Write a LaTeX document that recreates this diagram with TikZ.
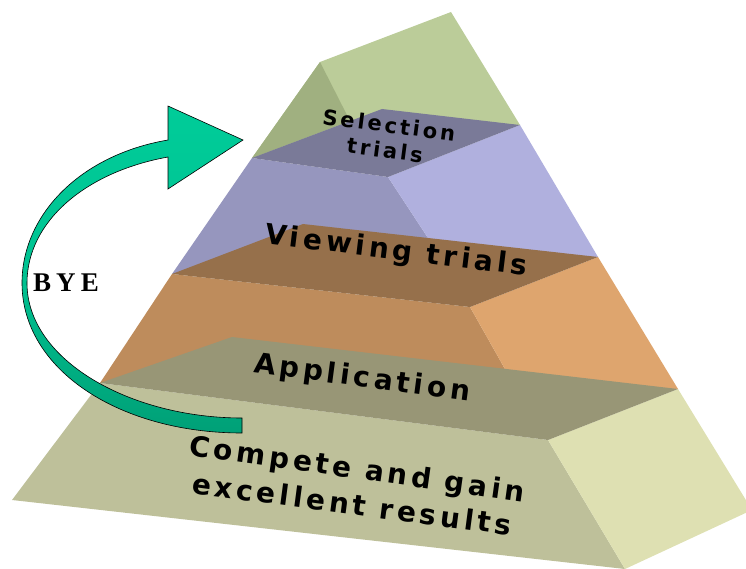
\documentclass[tikz,border=0pt]{standalone}
\usepackage{fontspec}
\newfontfamily\lblfont[LetterSpace=14]{DejaVu Sans}
\newfontfamily\selfont[LetterSpace=14]{DejaVu Sans}
\newfontfamily\byefont[LetterSpace=19]{Liberation Serif}
\definecolor{grnL}{HTML}{BBCC99}
\definecolor{grnD}{HTML}{A0B080}
\definecolor{selTop}{HTML}{7A7A98}
\definecolor{purL}{HTML}{9696BE}
\definecolor{purR}{HTML}{B0B0DE}
\definecolor{viewTop}{HTML}{96704B}
\definecolor{orL}{HTML}{BE8C5C}
\definecolor{orR}{HTML}{DEA56E}
\definecolor{appTop}{HTML}{989676}
\definecolor{botL}{HTML}{BEC09A}
\definecolor{botR}{HTML}{DEE0B2}
\definecolor{arrTop}{HTML}{00CC99}
\definecolor{arrBot}{HTML}{00A077}
\tikzset{
  lbl/.style={font=\lblfont\bfseries\fontsize{28}{30}\selectfont, text=black, inner sep=0pt},
  sellbl/.style={font=\selfont\bfseries\fontsize{21}{23}\selectfont, text=black, inner sep=0pt},
}
\begin{document}
\begin{tikzpicture}[x=1pt,y=-1pt]
\useasboundingbox (0,0) rectangle (746,569);
\clip (0,0) rectangle (746,569);
% green top piece
\fill[grnL] (320,62) -- (451,12) -- (520,125) -- (252,158) -- cycle;
\fill[grnD] (320,62) -- (252,158) -- (350,121) -- cycle;
% purple layer
\fill[purL] (252,158) -- (388,177) -- (449,270) -- (172,274) -- cycle;
\fill[purR] (388,177) -- (520,125) -- (598,257) -- (449,270) -- cycle;
\fill[selTop] (252,158) -- (382,109) -- (520,125) -- (388,177) -- cycle;
% orange layer
\fill[orL] (172,274) -- (470,307) -- (514,385) -- (100,383) -- cycle;
\fill[orR] (470,307) -- (598,257) -- (678,389) -- (514,385) -- cycle;
\fill[viewTop] (172,274) -- (303,224) -- (598,257) -- (470,307) -- cycle;
% bottom layer
\fill[botL] (100,383) -- (548,440) -- (625,569) -- (12,500) -- cycle;
\fill[botR] (548,440) -- (678,389) -- (752,510) -- (625,569) -- cycle;
\fill[appTop] (100,383) -- (232,337) -- (678,389) -- (548,440) -- cycle;
% curved arrow
\path[draw=black, line width=0.6pt, top color=arrTop, bottom color=arrBot, middle color=arrTop!80!arrBot, shading angle=0]
  (168,140) .. controls (80,155) and (22,215) .. (22,283)
  .. controls (22,370) and (120,433) .. (242,433)
  -- (242,418)
  .. controls (130,418) and (27,360) .. (27,283)
  .. controls (27,222) and (85,172) .. (168,157)
  -- (168,189) -- (243,140) -- (168,106) -- cycle;
% labels
\node[sellbl, rotate=-7.5] (sel) at (389,125) {Selection};
\node[sellbl, rotate=-7.5] (selb) at (385,150) {trials};
\node[lbl, rotate=-7] (view) at (396,252) {Viewing trials};
\node[lbl, rotate=-7.5] (app) at (362,379) {Application};
\node[lbl, rotate=-8] (comp) at (357,471) {Compete and gain};
\node[lbl, rotate=-7.5] (exc) at (352,504) {excellent results};
\node[font=\byefont\bfseries\fontsize{27}{29}\selectfont, inner sep=0pt] (bye) at (66,283) {BYE};
\end{tikzpicture}
\end{document}
